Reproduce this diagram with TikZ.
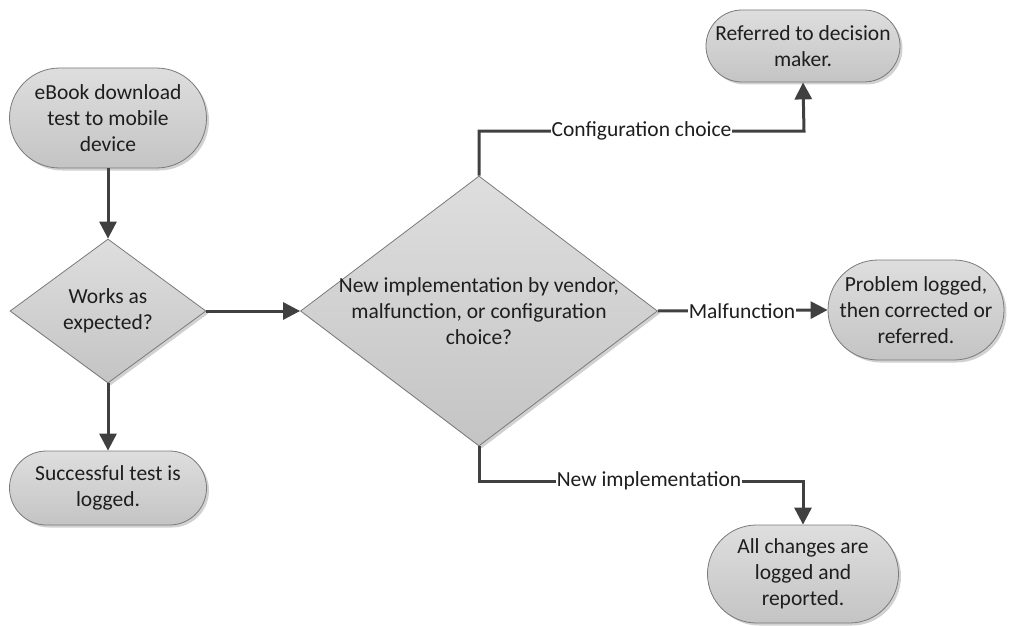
\documentclass[tikz,border=0pt]{standalone}
\usepackage{fontspec}
\setmainfont{Carlito}
\usetikzlibrary{arrows.meta,shapes.geometric,shadows,calc}
\definecolor{boxtop}{HTML}{DEDEDE}
\definecolor{boxbot}{HTML}{C4C4C4}
\definecolor{boxline}{HTML}{7A7A7A}
\definecolor{linec}{HTML}{404040}
\definecolor{txt}{HTML}{1E1E1E}
\begin{document}
\begin{tikzpicture}[x=1pt,y=-1pt,
  font=\fontsize{21.5}{26}\selectfont, text=txt,
  shadowed/.style={drop shadow={shadow xshift=2.5pt,shadow yshift=-2.5pt,fill=black,opacity=0.18}},
  term/.style={shape=rectangle, draw=boxline, line width=0.8pt, top color=boxtop, bottom color=boxbot,
    shadowed, inner sep=0pt, align=center, rounded corners=#1},
  dec/.style={shape=diamond, draw=boxline, line width=0.8pt, top color=boxtop, bottom color=boxbot,
    shadowed, inner sep=0pt},
  conn/.style={draw=linec, line width=3pt, -{Triangle[length=17pt,width=17pt]}},
  lab/.style={fill=white, inner sep=1pt, text=txt}
]
\useasboundingbox (0,0) rectangle (1010,626);

% terminators
\node[term=50pt, minimum width=197pt, minimum height=100pt] (start) at (108,118)
  {eBook download\\test to mobile\\device};
\node[term=37pt, minimum width=197pt, minimum height=74pt] (succ) at (108,488)
  {Successful test is\\logged.};
\node[term=36pt, minimum width=194pt, minimum height=72pt] (ref) at (803,46)
  {Referred to decision\\maker.};
\node[term=50pt, minimum width=176pt, minimum height=100pt] (prob) at (916,310)
  {Problem logged,\\then corrected or\\referred.};
\node[term=49pt, minimum width=191pt, minimum height=98pt] (chg) at (803,574)
  {All changes are\\logged and\\reported.};

% decisions
\node[dec, minimum width=196pt, minimum height=144pt] (works) at (108,311) {};
\node[align=center] at (works.center) {Works as\\expected?};
\node[dec, minimum width=357pt, minimum height=270pt] (big) at (479,311) {};
\node[align=center] (bigt) at (big.center) {New implementation by vendor,\\malfunction, or configuration\\choice?};

% connectors
\coordinate (c1) at (479,131);
\coordinate (c2) at (804,131);
\coordinate (n1) at (479,481);
\coordinate (n2) at (803,481);

\draw[conn] (start.south) -- (works.north);
\draw[conn] (works.south) -- (succ.north);
\draw[conn] (works.east) -- (big.west);
\draw[conn] (big.north) -- (c1) -- (c2) -- (ref.south);
\draw[conn] (big.east) -- (prob.west);
\draw[conn] (big.south) -- (n1) -- (n2) -- (chg.north);

\node[lab] at ($(c1)!0.5!(c2)$) {Configuration choice};
\node[lab] at (742,311) {Malfunction};
\node[lab] at (649,481) {New implementation};
\end{tikzpicture}
\end{document}
